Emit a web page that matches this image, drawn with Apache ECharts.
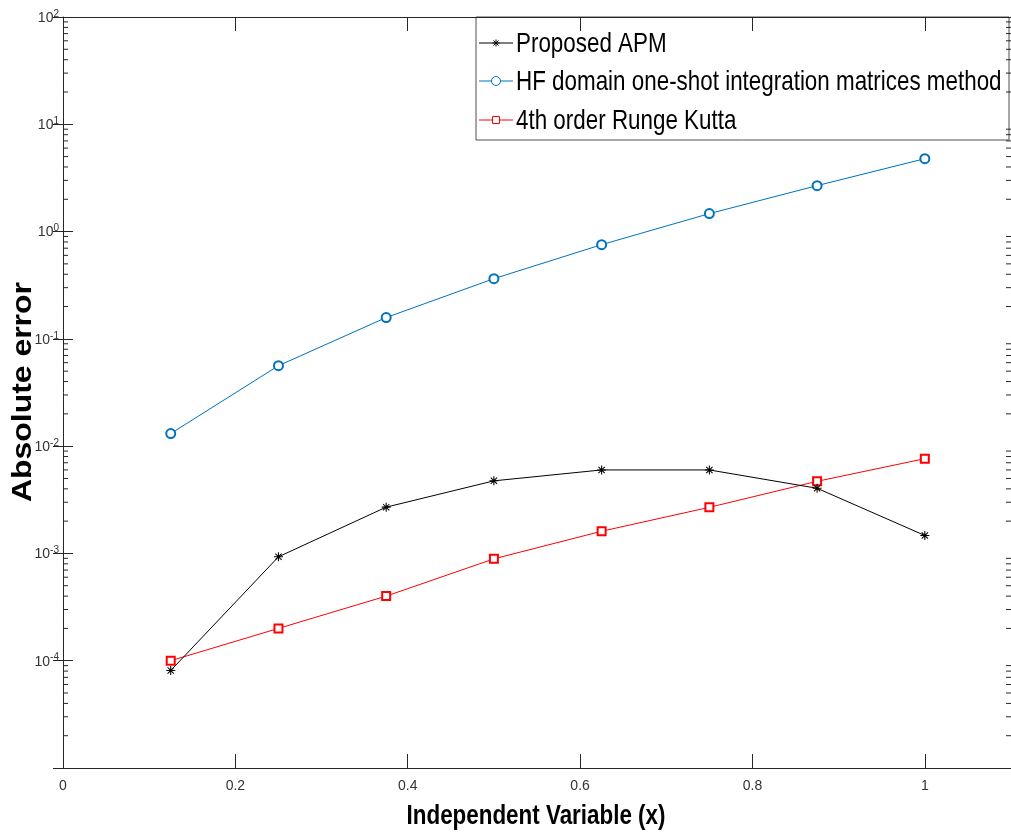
<!DOCTYPE html>
<html>
<head>
<meta charset="utf-8">
<script src="https://cdn.jsdelivr.net/npm/echarts@6/dist/echarts.min.js"></script>
<style>
html,body{margin:0;padding:0;background:#fff;}
#chart{width:1011px;height:833px;}
</style>
</head>
<body>
<div id="chart"></div>
<script>
// ---- data ----
const xValues = [0.125, 0.25, 0.375, 0.5, 0.625, 0.75, 0.875, 1.0];
const apmErr = [8.1e-5, 9.3e-4, 2.7e-3, 4.75e-3, 6.0e-3, 6.0e-3, 4.05e-3, 1.47e-3];
const hfErr = [0.0131, 0.0562, 0.158, 0.364, 0.755, 1.47, 2.68, 4.78];
const rk4Err = [1.0e-4, 2.0e-4, 4.0e-4, 8.9e-4, 1.61e-3, 2.69e-3, 4.70e-3, 7.64e-3];
const seriesNames = ['Proposed APM', 'HF domain one-shot integration matrices method', '4th order Runge Kutta'];
const seriesColors = ['#000000', '#0072BD', '#FF0000'];
const xTicks = [0, 0.2, 0.4, 0.6, 0.8, 1];
const decades = [-5, -4, -3, -2, -1, 0, 1];
const minorMult = [2, 3, 4, 5, 6, 7, 8, 9];
const xTitle = 'Independent Variable (x)';
const yTitle = 'Absolute error';

const sans = '"Liberation Sans", Arial, sans-serif';
const axisCol = '#262626';
const labelCol = '#333';

const minorTicks = [];
decades.forEach(d => minorMult.forEach(m => minorTicks.push([0, m * Math.pow(10, d)])));

const asterisk = 'path://M-0.6,-5 L0.6,-5 L0.6,5 L-0.6,5 Z M-5,-0.6 L5,-0.6 L5,0.6 L-5,0.6 Z ' +
  'M-3.9,-3.1 L-3.1,-3.9 L3.9,3.1 L3.1,3.9 Z M3.1,-3.9 L3.9,-3.1 L-3.1,3.9 L-3.9,3.1 Z';

function logLabel(v) {
  const e = Math.round(Math.log10(v));
  return '{b|10}{s|' + e + '}';
}

function asteriskLines(cx, cy, r, color) {
  const d = r * 0.72;
  const segs = [[0, -r, 0, r], [-r, 0, r, 0], [-d, -d, d, d], [d, -d, -d, d]];
  return segs.map(s => ({type: 'line', shape: {x1: cx + s[0], y1: cy + s[1], x2: cx + s[2], y2: cy + s[3]},
    style: {stroke: color, lineWidth: 1}}));
}

// ---- legend drawn as graphic (condensed text) ----
const legL = 476, legT = 17, legW = 533, legH = 123;
const rowY = [43, 81, 120];
const legendChildren = [{
  type: 'rect', shape: {x: legL, y: legT, width: legW, height: legH},
  style: {fill: '#fff', stroke: '#4d4d4d', lineWidth: 1}
}];
seriesNames.forEach((n, i) => {
  const y = rowY[i];
  const c = seriesColors[i];
  legendChildren.push({type: 'line', shape: {x1: 479, y1: y, x2: 513, y2: y}, style: {stroke: c, lineWidth: 1}});
  if (i === 0) {
    asteriskLines(496, y, 3.5, c).forEach(el => legendChildren.push(el));
  } else if (i === 1) {
    legendChildren.push({type: 'circle', shape: {cx: 496, cy: y, r: 4.5}, style: {fill: '#fff', stroke: c, lineWidth: 1}});
  } else {
    legendChildren.push({type: 'rect', shape: {x: 492.5, y: y - 3.5, width: 7, height: 7}, style: {fill: '#fff', stroke: c, lineWidth: 1}});
  }
  legendChildren.push({
    type: 'text', x: 516, y: y + 1, scaleX: 0.80,
    style: {text: n, font: '28px ' + sans, fill: '#000', textAlign: 'left', textVerticalAlign: 'middle'}
  });
});

const chart = echarts.init(document.getElementById('chart'), null, {renderer: 'canvas'});
const opt = {
  animation: false,
  backgroundColor: '#fff',
  grid: {left: 63, top: 17, right: 0, bottom: 65, containLabel: false, outerBoundsMode: 'none'},
  graphic: [
    {type: 'group', z: 100, children: legendChildren},
    {type: 'text', x: 536, y: 816, scaleX: 0.8, z: 100,
      style: {text: xTitle, font: 'bold 28px ' + sans, fill: '#000', textAlign: 'center', textVerticalAlign: 'middle'}},
    {type: 'text', x: 23, y: 392, rotation: Math.PI / 2, scaleX: 1.14, z: 100,
      style: {text: yTitle, font: 'bold 28px ' + sans, fill: '#000', textAlign: 'center', textVerticalAlign: 'middle'}}
  ],
  xAxis: [{
    type: 'value', min: 0, max: 1.1, position: 'bottom',
    axisLine: {show: true, lineStyle: {color: axisCol, width: 1}},
    axisTick: {show: true, inside: true, length: 14, customValues: xTicks, lineStyle: {color: axisCol}},
    axisLabel: {customValues: xTicks, margin: 11, fontFamily: sans, fontSize: 14, color: labelCol,
      formatter: v => String(+v.toFixed(1))},
    splitLine: {show: false}
  }, {
    type: 'value', min: 0, max: 1.1, position: 'top',
    axisLine: {show: true, lineStyle: {color: axisCol, width: 1}},
    axisTick: {show: true, inside: true, length: 14, customValues: xTicks, lineStyle: {color: axisCol}},
    axisLabel: {show: false},
    splitLine: {show: false}
  }],
  yAxis: [{
    type: 'log', logBase: 10, min: 1e-5, max: 1e2, position: 'left',
    axisLine: {show: true, lineStyle: {color: axisCol, width: 1}},
    axisTick: {show: true, inside: true, length: 10, lineStyle: {color: axisCol}},
    axisLabel: {margin: 4, showMinLabel: false, formatter: logLabel,
      rich: {
        b: {fontFamily: sans, fontSize: 14, color: labelCol, verticalAlign: 'bottom', lineHeight: 16},
        s: {fontFamily: sans, fontSize: 10, color: labelCol, verticalAlign: 'top', padding: [0, 0, 9, 0], lineHeight: 16}
      }},
    splitLine: {show: false}
  }, {
    type: 'log', logBase: 10, min: 1e-5, max: 1e2, position: 'right',
    axisLine: {show: false},
    axisTick: {show: true, inside: true, length: 10, lineStyle: {color: axisCol}},
    axisLabel: {show: false},
    splitLine: {show: false}
  }],
  series: [
    {
      name: seriesNames[0], type: 'line',
      data: xValues.map((x, i) => [x, apmErr[i]]),
      symbol: asterisk, symbolSize: 9, symbolKeepAspect: true,
      lineStyle: {color: seriesColors[0], width: 1},
      itemStyle: {color: seriesColors[0]},
      z: 5
    },
    {
      name: seriesNames[1], type: 'line',
      data: xValues.map((x, i) => [x, hfErr[i]]),
      symbol: 'emptyCircle', symbolSize: 9,
      lineStyle: {color: seriesColors[1], width: 1},
      itemStyle: {color: seriesColors[1], borderWidth: 1},
      z: 4
    },
    {
      name: seriesNames[2], type: 'line',
      data: xValues.map((x, i) => [x, rk4Err[i]]),
      symbol: 'emptyRect', symbolSize: 8,
      lineStyle: {color: seriesColors[2], width: 1},
      itemStyle: {color: seriesColors[2], borderWidth: 1},
      z: 4
    },
    {
      type: 'custom', silent: true, clip: false, z: 3,
      data: minorTicks,
      renderItem: function (params, api) {
        const v = api.value(1);
        const p = api.coord([0, v]);
        const q = api.coord([1.1, v]);
        return {type: 'group', children: [
          {type: 'line', shape: {x1: p[0], y1: p[1], x2: p[0] + 5, y2: p[1]}, style: {stroke: axisCol, lineWidth: 1}},
          {type: 'line', shape: {x1: q[0] - 5, y1: q[1], x2: q[0], y2: q[1]}, style: {stroke: axisCol, lineWidth: 1}}
        ]};
      }
    }
  ]
};
chart.setOption(opt);
</script>
</body>
</html>
